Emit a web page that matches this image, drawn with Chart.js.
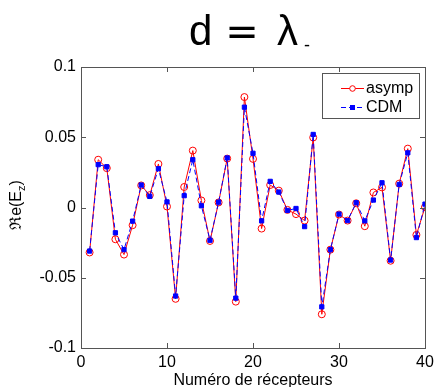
<!DOCTYPE html>
<html>
<head>
<meta charset="UTF-8">
<title>d = lambda</title>
<script src="https://cdn.jsdelivr.net/npm/chart.js"></script>
<style>
  body { margin: 0; background: #fff; }
  #wrap { width: 441px; height: 387px; position: relative; }
</style>
</head>
<body>
<div id="wrap"><canvas id="chart" width="441" height="387"></canvas></div>
<script>
// receiver index and the real part of E_z for both methods
const receivers = [1,2,3,4,5,6,7,8,9,10,11,12,13,14,15,16,17,18,19,20,
                   21,22,23,24,25,26,27,28,29,30,31,32,33,34,35,36,37,38,39,40];
const asymp = [-0.032, 0.034, 0.028, -0.0226, -0.0335, -0.0126, 0.0157, 0.0088, 0.031, 0.0007,
               -0.065, 0.0146, 0.0405, 0.005, -0.0238, 0.0036, 0.0348, -0.067, 0.0786, 0.0346,
               -0.015, 0.016, 0.012, -0.0017, -0.0047, -0.0093, 0.0498, -0.076, -0.030, -0.005,
               -0.0093, 0.003, -0.0133, 0.0107, 0.0143, -0.0379, 0.017, 0.0419, -0.0195, 0.0003];
const cdm = [-0.031, 0.0305, 0.029, -0.018, -0.030, -0.0097, 0.016, 0.0079, 0.0276, 0.004,
             -0.063, 0.0084, 0.034, 0.0012, -0.0233, 0.0038, 0.0353, -0.0645, 0.0714, 0.0386,
             -0.0095, 0.0186, 0.011, -0.0021, -0.0007, -0.0136, 0.052, -0.0707, -0.030, -0.0047,
             -0.0093, 0.0034, -0.0095, 0.0053, 0.0176, -0.0374, 0.0164, 0.0389, -0.0214, 0.0024];
const yTicks = [-0.1, -0.05, 0, 0.05, 0.1];
const xTicks = [0, 10, 20, 30, 40];

const FONT = "'Liberation Sans', Arial, sans-serif";

function pts(vals) {
  return receivers.map((r, i) => ({ x: r, y: vals[i] }));
}

// box, inward ticks, titles and legend, drawn MATLAB-style
const frame = {
  id: 'frame',
  afterDraw(chart) {
    const ctx = chart.ctx;
    const a = chart.chartArea;
    const xs = chart.scales.x, ys = chart.scales.y;
    ctx.save();
    ctx.strokeStyle = '#555';
    ctx.lineWidth = 1;
    ctx.strokeRect(a.left + 0.5, a.top + 0.5, a.right - a.left, a.bottom - a.top);
    ctx.beginPath();
    xTicks.forEach(v => {
      const px = Math.round(xs.getPixelForValue(v)) + 0.5;
      ctx.moveTo(px, a.bottom); ctx.lineTo(px, a.bottom - 5);
      ctx.moveTo(px, a.top); ctx.lineTo(px, a.top + 5);
    });
    yTicks.forEach(v => {
      const py = Math.round(ys.getPixelForValue(v)) + 0.5;
      ctx.moveTo(a.left, py); ctx.lineTo(a.left + 5, py);
      ctx.moveTo(a.right, py); ctx.lineTo(a.right - 5, py);
    });
    ctx.stroke();

    // title
    ctx.fillStyle = '#000';
    ctx.textBaseline = 'alphabetic';
    ctx.textAlign = 'left';
    ctx.font = '42px ' + FONT;
    ctx.fillText('d', 189, 45);
    ctx.font = '40px DejaVu Sans';
    ctx.textAlign = 'center';
    ctx.fillText('=', 242, 45);
    ctx.textAlign = 'left';
    ctx.font = '42px ' + FONT;
    ctx.fillText('λ', 277, 45);
    ctx.font = '18px ' + FONT;
    ctx.fillText('-', 304, 51);

    // x axis title
    ctx.font = '16px ' + FONT;
    ctx.textAlign = 'center';
    ctx.fillText('Numéro de récepteurs', 253, 385);

    // y axis title with subscript
    ctx.save();
    ctx.translate(21, 205);
    ctx.rotate(-Math.PI / 2);
    const main = 'ℜe(E', sub = 'z', close = ')';
    ctx.font = '16px ' + FONT;
    const w1 = ctx.measureText(main).width, w3 = ctx.measureText(close).width;
    ctx.font = '11px ' + FONT;
    const w2 = ctx.measureText(sub).width;
    let x0 = -(w1 + w2 + w3) / 2;
    ctx.textAlign = 'left';
    ctx.font = '16px ' + FONT;
    ctx.fillText(main, x0, 0);
    ctx.font = '11px ' + FONT;
    ctx.fillText(sub, x0 + w1, 4);
    ctx.font = '16px ' + FONT;
    ctx.fillText(close, x0 + w1 + w2, 0);
    ctx.restore();

    // legend
    const lx = 322, ly = 73, lw = 97, lh = 45;
    ctx.fillStyle = '#fff';
    ctx.fillRect(lx, ly, lw, lh);
    ctx.strokeStyle = '#555';
    ctx.strokeRect(lx + 0.5, ly + 0.5, lw, lh);
    const rows = [chart.data.datasets[1], chart.data.datasets[0]];
    rows.forEach((ds, i) => {
      const cy = 88 + i * 19;
      ctx.strokeStyle = ds.borderColor;
      ctx.lineWidth = 1;
      ctx.setLineDash(ds.borderDash || []);
      ctx.beginPath();
      ctx.moveTo(341, cy + 0.5); ctx.lineTo(364, cy + 0.5);
      ctx.stroke();
      ctx.setLineDash([]);
      if (ds.pointStyle === 'rect') {
        ctx.fillStyle = ds.pointBackgroundColor;
        ctx.fillRect(350, cy - 2, 5, 5);
      } else {
        ctx.fillStyle = '#fff';
        ctx.beginPath();
        ctx.arc(352.5, cy + 0.5, 2.8, 0, Math.PI * 2);
        ctx.fill();
        ctx.stroke();
      }
      ctx.fillStyle = '#000';
      ctx.font = '16px ' + FONT;
      ctx.textAlign = 'left';
      ctx.textBaseline = 'middle';
      ctx.fillText(ds.label, 366, cy + 1);
    });
    ctx.restore();
  }
};

new Chart(document.getElementById('chart'), {
  type: 'line',
  data: {
    datasets: [
      {
        label: 'CDM',
        data: pts(cdm),
        borderColor: '#0000ff',
        borderWidth: 1,
        borderDash: [5, 3],
        pointStyle: 'rect',
        pointRadius: 3,
        pointBackgroundColor: '#0000ff',
        pointBorderColor: '#0000ff',
        tension: 0,
        order: 0
      },
      {
        label: 'asymp',
        data: pts(asymp),
        borderColor: '#ff0000',
        borderWidth: 1,
        pointStyle: 'circle',
        pointRadius: 3.5,
        pointBackgroundColor: 'rgba(255,255,255,0)',
        pointBorderColor: '#ff0000',
        pointBorderWidth: 1,
        tension: 0,
        order: 1
      }
    ]
  },
  options: {
    responsive: false,
    animation: false,
    layout: { padding: { left: 0, top: 67, right: 16, bottom: 0 } },
    plugins: { legend: { display: false }, title: { display: false }, tooltip: { enabled: false } },
    scales: {
      x: {
        type: 'linear',
        min: 0, max: 40,
        afterBuildTicks: s => { s.ticks = xTicks.map(v => ({ value: v })); },
        afterFit: s => { s.height = 39; },
        grid: { display: false, drawTicks: false },
        border: { display: false },
        ticks: { color: '#000', font: { family: FONT, size: 16 }, padding: 5, maxRotation: 0 }
      },
      y: {
        min: -0.1, max: 0.1,
        afterBuildTicks: s => { s.ticks = yTicks.map(v => ({ value: v })); },
        afterFit: s => { s.width = 81; },
        grid: { display: false, drawTicks: false },
        border: { display: false },
        ticks: {
          color: '#000', font: { family: FONT, size: 16 }, padding: 5,
          callback: v => String(v)
        }
      }
    }
  },
  plugins: [frame]
});
</script>
</body>
</html>
